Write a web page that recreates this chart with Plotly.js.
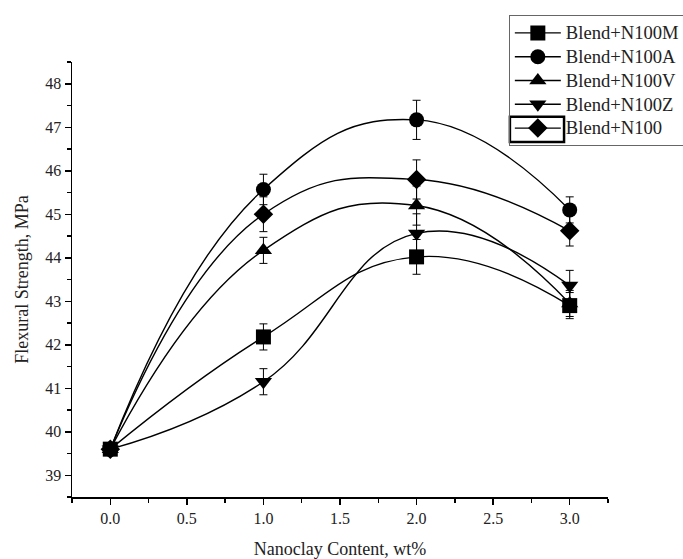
<!DOCTYPE html>
<html>
<head>
<meta charset="utf-8">
<script src="https://cdn.plot.ly/plotly-3.0.1.min.js"></script>
<style>html,body{margin:0;padding:0;background:#fff;}#chart{width:683px;height:559px;}</style>
</head>
<body>
<div id="chart"></div>
<script>
const content = [0.0, 1.0, 2.0, 3.0];
const seriesNames = ["Blend+N100M", "Blend+N100A", "Blend+N100V", "Blend+N100Z", "Blend+N100"];
const seriesSymbols = ["square", "circle", "triangle-up", "triangle-down", "diamond"];
const valuesM = [39.6, 42.18, 44.02, 42.9];
const valuesA = [39.6, 45.57, 47.17, 45.1];
const valuesV = [39.6, 44.17, 45.2, 42.95];
const valuesZ = [39.6, 41.15, 44.56, 43.36];
const valuesN = [39.6, 45.0, 45.8, 44.62];
const errM = [0.1, 0.3, 0.4, 0.3];
const errA = [0.1, 0.35, 0.45, 0.3];
const errV = [0.1, 0.3, 0.45, 0.3];
const errZ = [0.1, 0.3, 0.45, 0.35];
const errN = [0.1, 0.4, 0.45, 0.35];

const allValues = [valuesM, valuesA, valuesV, valuesZ, valuesN];
const allErr = [errM, errA, errV, errZ, errN];

const traces = seriesNames.map((name, i) => ({
  x: content,
  y: allValues[i],
  name: '<span style="font-size:18.6px">' + name + '</span>',
  type: 'scatter',
  mode: 'lines+markers',
  line: {color: '#000', width: 1.4, shape: 'spline', smoothing: 1.3},
  marker: {symbol: seriesSymbols[i], size: 15, color: '#000'},
  error_y: {type: 'data', array: allErr[i], visible: true, color: '#000', thickness: 1, width: 4}
}));

const fam = 'Liberation Serif';
const txt = '#222';

const layout = {
  width: 683, height: 559,
  margin: {l: 72, r: 75, t: 62, b: 62, autoexpand: false},
  paper_bgcolor: '#fff', plot_bgcolor: '#fff',
  font: {family: fam, size: 16, color: txt},
  showlegend: true,
  legend: {
    x: 0.815, y: 1.108, xanchor: 'left', yanchor: 'top',
    bgcolor: 'rgba(0,0,0,0)', bordercolor: '#666', borderwidth: 1,
    font: {family: fam, size: 16, color: txt},
    itemwidth: 46, tracegroupgap: 0
  },
  shapes: [{
    type: 'rect', xref: 'paper', yref: 'paper',
    x0: 0.817, x1: 0.918, y0: 0.816, y1: 0.874,
    line: {color: '#000', width: 2.5}, fillcolor: 'rgba(0,0,0,0)'
  }],
  xaxis: {
    range: [-0.25, 3.25],
    showgrid: false, zeroline: false,
    showline: true, linecolor: '#000', linewidth: 1.5,
    ticks: 'outside', ticklen: 6, tickwidth: 1.5, tickcolor: '#000',
    tick0: 0, dtick: 0.5, tickformat: '.1f',
    minor: {tick0: 0, dtick: 0.25, ticks: 'outside', ticklen: 4, tickwidth: 1.5, tickcolor: '#000', showgrid: false},
    tickfont: {family: fam, size: 16, color: txt},
    title: {text: 'Nanoclay Content, wt%', font: {family: fam, size: 18, color: txt}, standoff: 16}
  },
  yaxis: {
    range: [38.5, 48.5],
    showgrid: false, zeroline: false,
    showline: true, linecolor: '#000', linewidth: 1.5,
    ticks: 'outside', ticklen: 6, tickwidth: 1.5, tickcolor: '#000',
    tick0: 39, dtick: 1,
    minor: {tick0: 39, dtick: 0.5, ticks: 'outside', ticklen: 4, tickwidth: 1.5, tickcolor: '#000', showgrid: false},
    tickfont: {family: fam, size: 16, color: txt},
    title: {text: 'Flexural Strength, MPa', font: {family: fam, size: 18, color: txt}, standoff: 12}
  }
};

Plotly.newPlot('chart', traces, layout, {displayModeBar: false, staticPlot: true});
</script>
</body>
</html>
